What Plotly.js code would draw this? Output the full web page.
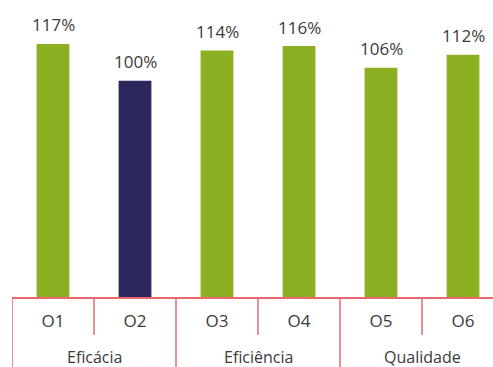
<!DOCTYPE html>
<html><head><meta charset="utf-8">
<script src="https://cdn.plot.ly/plotly-3.0.1.min.js"></script>
<style>html,body{margin:0;padding:0;background:#fff;}#chart{width:493px;height:367px;}</style>
</head><body><div id="chart"></div>
<script>
const categories = ['O1','O2','O3','O4','O5','O6'];
const groups = ['Eficácia','Eficácia','Eficiência','Eficiência','Qualidade','Qualidade'];
const values = [117, 100, 114, 116, 106, 112];
const labels = ['117%','100%','114%','116%','106%','112%'];
const barColors = ['#8cb021','#2b285e','#8cb021','#8cb021','#8cb021','#8cb021'];

const lineColor = '#e8686e';
const textColor = '#3a3a3a';
const font = 'Open Sans, sans-serif';
const idx = categories.map((c,i)=>i);

const trace = {
  type:'bar', x: idx, y: values, width: 0.4,
  marker:{color: barColors, line:{width:0}},
  hoverinfo:'skip'
};

const annotations = idx.map(i=>({
  x:i, y:values[i], xref:'x', yref:'y', text:labels[i], showarrow:false,
  yanchor:'middle', yshift:19, font:{family:font, size:17, color:textColor}
}));

// group spans
const spans = [];
groups.forEach((g,i)=>{
  if (spans.length && spans[spans.length-1].name===g) spans[spans.length-1].end=i;
  else spans.push({name:g,start:i,end:i});
});
spans.forEach(s=>annotations.push({
  x:(s.start+s.end)/2, y:0, xref:'x', yref:'paper', yanchor:'middle', yshift:-60,
  text:s.name, showarrow:false, borderpad:0, font:{family:font, size:16, color:textColor}
}));

const shapes = [];
idx.forEach(i=>{
  const b = i - 0.5;
  const isGroupStart = i===0 || groups[i]!==groups[i-1];
  shapes.push({type:'line', xref:'x', yref:'paper', x0:b, x1:b, y0:0,
    y1: isGroupStart ? -0.25 : -38/297, line:{color:lineColor, width:1.5}});
});

const layout = {
  width:493, height:367,
  margin:{l:12, r:0, t:0, b:70},
  paper_bgcolor:'#fff', plot_bgcolor:'#fff',
  showlegend:false,
  xaxis:{range:[-0.5, -0.5 + 481/82], tickmode:'array', tickvals:idx, ticktext:categories,
    showline:true, linecolor:lineColor, linewidth:1.5, showgrid:false, zeroline:false,
    ticks:'', ticklabelstandoff:8, tickfont:{family:font, size:17, color:textColor}, fixedrange:true},
  yaxis:{range:[0, 297/2.163], visible:false, showgrid:false, zeroline:false, fixedrange:true},
  annotations: annotations,
  shapes: shapes
};
Plotly.newPlot('chart', [trace], layout, {staticPlot:true, displayModeBar:false});
</script></body></html>
